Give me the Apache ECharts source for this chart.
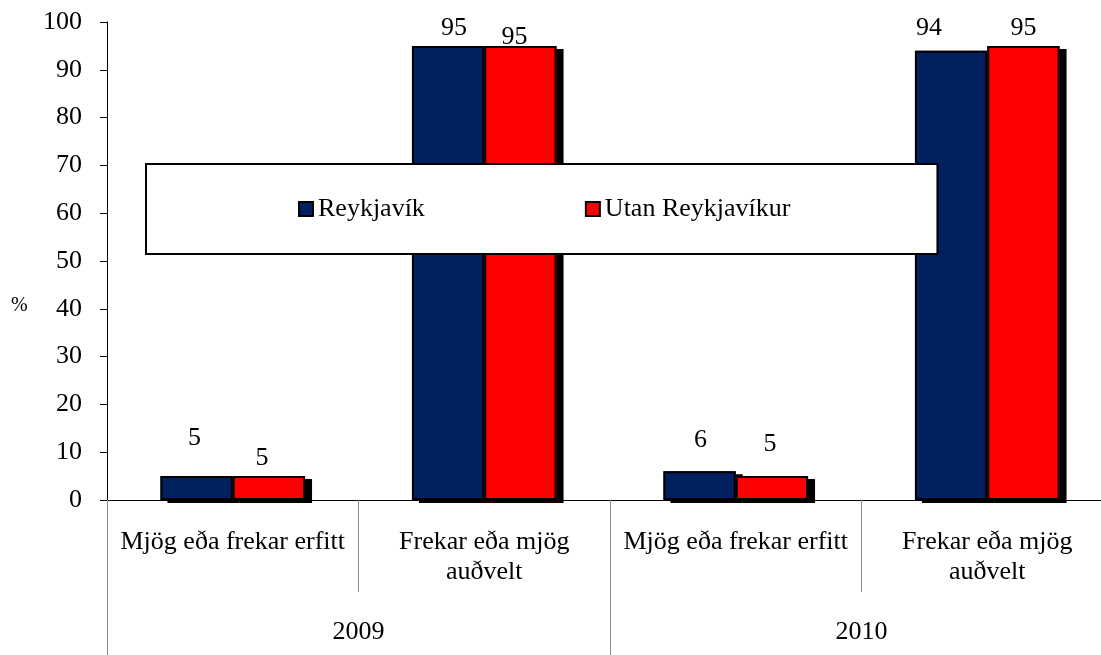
<!DOCTYPE html>
<html>
<head>
<meta charset="utf-8">
<script src="https://cdn.jsdelivr.net/npm/echarts@6/dist/echarts.min.js"></script>
<style>
  html, body { margin: 0; padding: 0; background: #ffffff; overflow: hidden; }
  /* the plot runs slightly past the right edge of the page */
  #chart { width: 1120px; height: 655px; }
</style>
</head>
<body>
<div id="chart"></div>
<script>
// Answer categories, repeated for each survey year
var categories = ['Mjög eða frekar erfitt', 'Frekar eða mjög\nauðvelt', 'Mjög eða frekar erfitt', 'Frekar eða mjög\nauðvelt'];
var years = ['2009', '2010'];

// Share of respondents (%)
var reykjavik = [5, 95, 6, 94];
var utanReykjavikur = [5, 95, 5, 95];

// Value-label nudges [dx, dy] in px, so the numbers sit where they were typeset
var reykjavikLabelNudge = [[-2, -25], [6, -5], [1, -18], [-22, -10]];
var utanLabelNudge = [[-7, -5], [-6, 4], [-2, -19], [0, -5]];

var FONT = "'Liberation Serif', 'Times New Roman', serif";
var BLUE = '#00205f';
var RED = '#ff0000';

function buildData(values, nudges) {
  return values.map(function (v, i) {
    return { value: v, label: { offset: nudges[i] } };
  });
}

// Filled bars carry the hard drop shadow; outlines are drawn on an
// identical hidden axis so the stroke itself casts no shadow.
var fillStyle = function (color) {
  return {
    color: color,
    borderWidth: 0,
    shadowColor: '#000000',
    shadowBlur: 0,
    shadowOffsetX: 7,
    shadowOffsetY: 3
  };
};

var outlineStyle = {
  color: 'rgba(0,0,0,0)',
  borderColor: '#000000',
  borderWidth: 2
};

var labelStyle = {
  show: true,
  position: 'top',
  distance: 0,
  color: '#000000',
  fontFamily: FONT,
  fontSize: 26,
  lineHeight: 26
};

var BAR_CAT_GAP = '42.5%';

var chart = echarts.init(document.getElementById('chart'), null, { renderer: 'canvas' });

chart.setOption({
  backgroundColor: '#ffffff',
  animation: false,
  textStyle: { fontFamily: FONT },
  grid: { left: 107, top: 22, right: 7, bottom: 155, containLabel: false },
  legend: {
    left: 146,
    top: 164,
    orient: 'horizontal',
    backgroundColor: '#ffffff',
    borderColor: '#000000',
    borderWidth: 2,
    borderRadius: 0,
    padding: [32, 147, 32, 152],
    itemGap: 160,
    itemWidth: 14,
    itemHeight: 14,
    icon: 'rect',
    itemStyle: { borderColor: '#000000', borderWidth: 2, shadowColor: 'transparent', shadowOffsetX: 0, shadowOffsetY: 0 },
    textStyle: { fontFamily: FONT, fontSize: 26, color: '#000000' },
    data: [
      { name: 'Reykjavík', itemStyle: { color: BLUE } },
      { name: 'Utan Reykjavíkur', itemStyle: { color: RED } }
    ]
  },
  graphic: [{
    type: 'text',
    left: 11,
    top: 296,
    style: { text: '%', font: '20px ' + FONT, fill: '#000000' }
  }],
  xAxis: [{
    type: 'category',
    data: categories,
    position: 'bottom',
    axisLine: { show: true, lineStyle: { color: '#000000', width: 1 } },
    axisTick: { show: true, interval: 0, length: 92, lineStyle: { color: '#8c8c8c', width: 1 } },
    axisLabel: {
      interval: 0,
      margin: 27,
      color: '#000000',
      fontFamily: FONT,
      fontSize: 26,
      lineHeight: 30,
      align: 'center',
      verticalAlign: 'top'
    },
    splitLine: { show: false }
  }, {
    type: 'category',
    data: years,
    position: 'bottom',
    offset: 0,
    axisLine: { show: false },
    axisTick: { show: true, interval: 0, length: 155, lineStyle: { color: '#8c8c8c', width: 1 } },
    axisLabel: {
      interval: 0,
      margin: 117,
      color: '#000000',
      fontFamily: FONT,
      fontSize: 26,
      lineHeight: 30,
      verticalAlign: 'top'
    },
    splitLine: { show: false }
  }, {
    // twin of the first axis, carries the bar outlines
    type: 'category',
    data: categories,
    position: 'bottom',
    show: false
  }],
  yAxis: {
    type: 'value',
    min: 0,
    max: 100,
    interval: 10,
    axisLine: { show: true, lineStyle: { color: '#000000', width: 1 } },
    axisTick: { show: true, length: 7, lineStyle: { color: '#000000', width: 1 } },
    axisLabel: { margin: 25, color: '#000000', fontFamily: FONT, fontSize: 26 },
    splitLine: { show: false }
  },
  series: [{
    name: 'Reykjavík',
    type: 'bar',
    xAxisIndex: 0,
    data: reykjavik,
    barGap: '0%',
    barCategoryGap: BAR_CAT_GAP,
    itemStyle: fillStyle(BLUE),
    z: 2
  }, {
    name: 'Utan Reykjavíkur',
    type: 'bar',
    xAxisIndex: 0,
    data: utanReykjavikur,
    barGap: '0%',
    barCategoryGap: BAR_CAT_GAP,
    itemStyle: fillStyle(RED),
    z: 2
  }, {
    name: 'Reykjavík',
    type: 'bar',
    xAxisIndex: 2,
    data: buildData(reykjavik, reykjavikLabelNudge),
    barGap: '0%',
    barCategoryGap: BAR_CAT_GAP,
    itemStyle: outlineStyle,
    label: labelStyle,
    z: 3
  }, {
    name: 'Utan Reykjavíkur',
    type: 'bar',
    xAxisIndex: 2,
    data: buildData(utanReykjavikur, utanLabelNudge),
    barGap: '0%',
    barCategoryGap: BAR_CAT_GAP,
    itemStyle: outlineStyle,
    label: labelStyle,
    z: 3
  }]
});
</script>
</body>
</html>
